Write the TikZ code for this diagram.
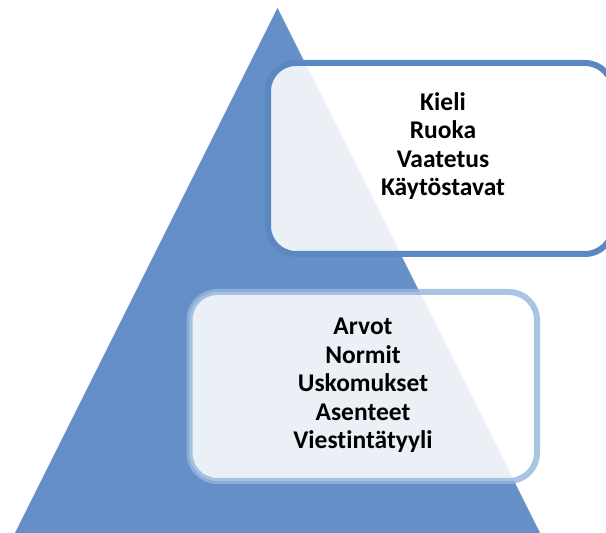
\documentclass[tikz,border=0pt]{standalone}
\usepackage{fontspec}
\setmainfont{Carlito}[Ligatures={NoCommon}]
\definecolor{triblue}{HTML}{658FC7}
\definecolor{topline}{HTML}{5B87C2}
\definecolor{botline}{HTML}{94B6DD}
\begin{document}
\begin{tikzpicture}[x=1pt,y=1pt,
  panel/.style={rounded corners=28pt, line width=6pt, fill=white, fill opacity=0.87, inner sep=0pt},
  toppanel/.style={panel, draw=topline},
  botpanel/.style={panel, draw=botline, draw opacity=0.8},
  label/.style={align=center, inner sep=0pt, anchor=north, font=\bfseries\fontsize{25.5}{28.5}\selectfont, text=black}
]
\clip (0,0) rectangle (606,533);
\fill[triblue] (277.5,525) -- (540,0) -- (15,0) -- cycle;
\node[toppanel, minimum width=345pt, minimum height=191pt] (topbox) at (440.5,374.5) {};
\node[botpanel, minimum width=347.5pt, minimum height=189pt] (botbox) at (363.25,146.5) {};
\node[label] (toptext) at (443,441) {Kieli\\Ruoka\\Vaatetus\\Käytöstavat};
\node[label] (bottext) at (363,215) {Arvot\\Normit\\Uskomukset\\Asenteet\\Viestintätyyli};
\end{tikzpicture}
\end{document}
